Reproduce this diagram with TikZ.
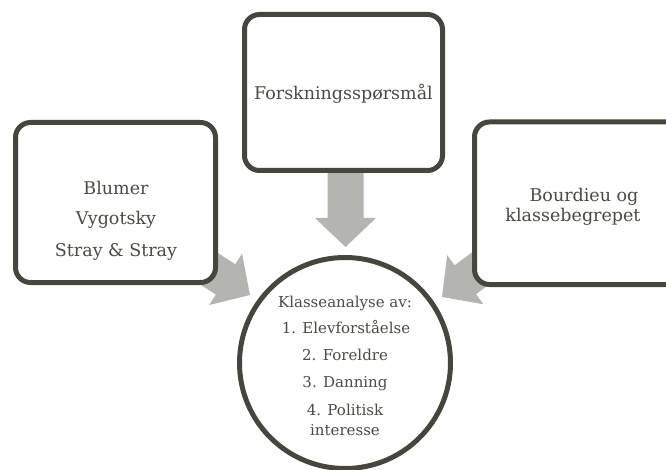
\documentclass[tikz,border=0pt]{standalone}
\usepackage{fontspec}
\setmainfont{DejaVu Serif}
\definecolor{edge}{HTML}{47463E}
\definecolor{flow}{HTML}{B4B5B0}
\definecolor{ink}{HTML}{4B4B43}
\tikzset{
  panel/.style={draw=edge, line width=5pt, fill=white, rounded corners=15pt},
  hub/.style={draw=edge, line width=5pt, fill=white},
  bigtext/.style={text=ink, font=\fontsize{17.5}{21}\selectfont, inner sep=0pt, anchor=base},
  smalltext/.style={text=ink, font=\fontsize{15}{18}\selectfont, inner sep=0pt, anchor=base},
  flowarrow/.style={fill=flow, draw=none},
}
\begin{document}
\begin{tikzpicture}[x=1pt, y=-1pt]
\useasboundingbox (0,0) rectangle (666,470);
\clip (0,0) rectangle (666,470);

% block arrows (tip at origin, pointing along +x), drawn under the panels
\foreach \tx/\ty/\ang/\len in {345.5/247/-90/77, 250/295/-32.6/85, 442/297/216.5/85}{
  \fill[flowarrow, shift={(\tx,\ty)}, rotate=\ang]
    (-\len,-18) -- (-29,-18) -- (-29,-30.5) -- (0,0) -- (-29,30.5) -- (-29,18) -- (-\len,18) -- cycle;
}

% panels
\draw[panel] (15.5,122.5) rectangle (215.5,282.5);
\draw[panel] (244.5,14.5) rectangle (442.5,170.5);
\draw[panel] (474.5,122) rectangle (685,284.5);

% central circle
\node[hub, circle, minimum size=211pt, inner sep=0pt] (core) at (345,363) {};

% panel texts
\node[bigtext] (blumer) at (116,195) {Blumer};
\node[bigtext] (vygotsky) at (116,225) {Vygotsky};
\node[bigtext] (stray) at (116,257) {Stray \& Stray};
\node[bigtext] (forsk) at (343.5,100) {Forskningsspørsmål};
\node[bigtext] (bourdieu) at (584,202) {Bourdieu og};
\node[bigtext] (klasse) at (573,222) {klassebegrepet};

% circle texts
\node[smalltext] (k0) at (345,307) {Klasseanalyse av:};
\node[smalltext] (k1) at (346,333) {1. Elevforståelse};
\node[smalltext] (k2) at (345,360) {2. Foreldre};
\node[smalltext] (k3) at (345,387) {3. Danning};
\node[smalltext] (k4) at (345,415) {4. Politisk};
\node[smalltext] (k5) at (345,435) {interesse};
\end{tikzpicture}
\end{document}
